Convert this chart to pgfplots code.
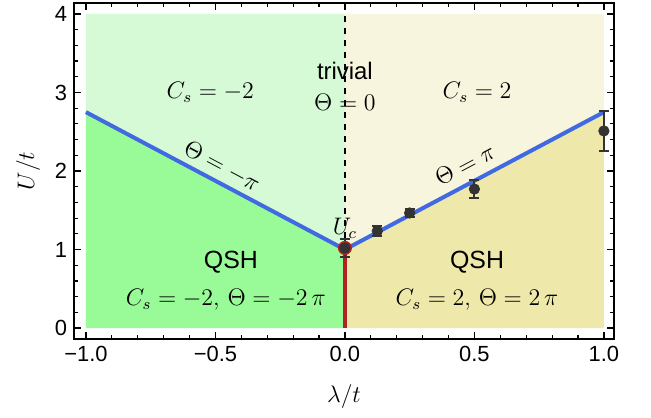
\documentclass[border=0pt]{standalone}
\usepackage{fontspec}
\setmainfont{Liberation Sans}
\usepackage{pgfplots}
\pgfplotsset{compat=1.18}

\definecolor{lgreen}{RGB}{214,250,214}
\definecolor{dgreen}{RGB}{152,251,152}
\definecolor{lyellow}{RGB}{247,245,221}
\definecolor{khaki}{RGB}{238,232,170}
\definecolor{lineblue}{RGB}{65,105,225}
\definecolor{firered}{RGB}{178,34,34}

\begin{document}
\begin{tikzpicture}
\begin{axis}[
    scale only axis,
    width=270bp, height=168bp,
    xmin=-1.046, xmax=1.039,
    ymin=-0.14, ymax=4.14,
    axis line style={line width=1bp},
    tick align=inside,
    tick style={black, line width=0.6bp},
    major tick length=3.5bp,
    minor tick length=2bp,
    xtick={-1,-0.5,0,0.5,1},
    xticklabels={−1.0,−0.5,0.0,0.5,1.0},
    minor x tick num=4,
    ytick={0,1,2,3,4},
    yticklabels={0,1,2,3,4},
    minor y tick num=4,
    ticklabel style={font=\fontsize{11}{12}\selectfont},
    xlabel={$\lambda/t$},
    label style={font=\fontsize{12}{13}\selectfont},
    xlabel style={at={(axis description cs:0.5,-0.17)}, anchor=center},
    clip=false,
]
% phase regions
\addplot[draw=none, fill=lgreen] coordinates {(-1,2.75) (-1,4) (0,4) (0,1)} --cycle;
\addplot[draw=none, fill=dgreen] coordinates {(-1,0) (-1,2.75) (0,1) (0,0)} --cycle;
\addplot[draw=none, fill=lyellow] coordinates {(0,1) (0,4) (1,4) (1,2.75)} --cycle;
\addplot[draw=none, fill=khaki] coordinates {(0,0) (0,1) (1,2.75) (1,0)} --cycle;

% boundaries
\addplot[black, dashed, line width=0.6bp] coordinates {(0,1) (0,4)};
\addplot[lineblue, line width=2bp] coordinates {(-1,2.75) (0,1) (1,2.75)};
\addplot[firered, line width=2.2bp] coordinates {(0,0) (0,1)};

% critical point
\addplot[only marks, mark=*, mark size=3.3bp, mark options={draw=firered, fill=firered}] coordinates {(0,1.02)};

% numerical data
\addplot[only marks, mark=*, mark size=2.6bp, black!80,
    error bars/.cd, y dir=both, y explicit,
    error bar style={line width=1bp, black!80},
    error mark options={rotate=90, mark size=2.5bp, line width=1bp, black!80}]
    coordinates {
    (0,1.02) +- (0,0.12)
    (0.125,1.235) +- (0,0.06)
    (0.25,1.465) +- (0,0.05)
    (0.5,1.77) +- (0,0.12)
    (1.0,2.51) +- (0,0.26)
    };

% annotations
\node[font=\fontsize{12}{13}\selectfont, rotate=90] at (rel axis cs:-0.085,0.5) {$U/t$};
\node[font=\fontsize{12}{14}\selectfont] at (axis cs:0,3.27) {trivial};
\node[font=\fontsize{11.5}{14}\selectfont] at (axis cs:0,2.87) {$\Theta=0$};
\node[font=\fontsize{11.5}{14}\selectfont] at (axis cs:-0.52,3.0) {$C_s=-2$};
\node[font=\fontsize{11.5}{14}\selectfont] at (axis cs:0.51,3.0) {$C_s=2$};
\node[font=\fontsize{11.5}{14}\selectfont, rotate=-28] at (axis cs:-0.475,2.06) {$\Theta=-\pi$};
\node[font=\fontsize{11.5}{14}\selectfont, rotate=28] at (axis cs:0.463,2.08) {$\Theta=\pi$};
\node[font=\fontsize{11.5}{14}\selectfont] at (axis cs:0,1.27) {$U_c$};
\node[font=\fontsize{12.5}{14}\selectfont] at (axis cs:-0.44,0.84) {QSH};
\node[font=\fontsize{11.5}{14}\selectfont] at (axis cs:-0.46,0.36) {$C_s=-2,\,\Theta=-2\,\pi$};
\node[font=\fontsize{12.5}{14}\selectfont] at (axis cs:0.51,0.84) {QSH};
\node[font=\fontsize{11.5}{14}\selectfont] at (axis cs:0.51,0.36) {$C_s=2,\,\Theta=2\,\pi$};
\end{axis}
\pgfresetboundingbox
\path[use as bounding box] ([shift={(-37bp,-39.5bp)}]current axis.south west) rectangle ([shift={(18.5bp,1.5bp)}]current axis.north east);
\end{tikzpicture}
\end{document}
